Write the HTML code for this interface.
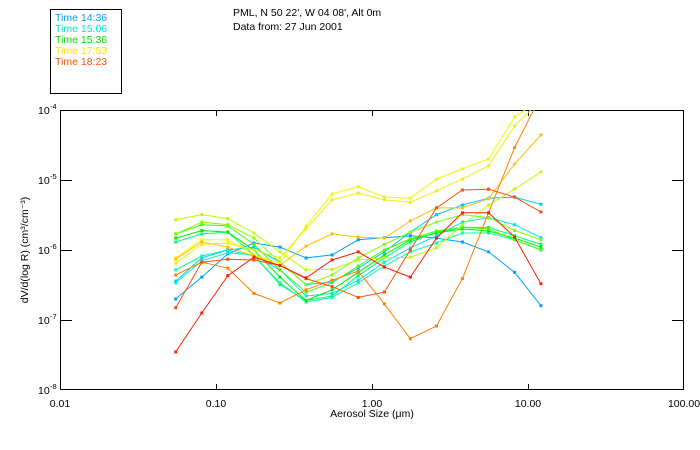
<!DOCTYPE html>
<html><head><meta charset="utf-8"><style>
html,body{margin:0;padding:0;background:#fff;}
svg{display:block;font-family:"Liberation Sans",sans-serif;}
</style></head><body>
<svg id="chart" width="700" height="450" viewBox="0 0 700 450">
<rect x="0" y="0" width="700" height="450" fill="#fff"/>
<g>
<rect x="50.5" y="9.5" width="71" height="84" fill="none" stroke="#000"/>
<text x="55" y="21" font-size="10.5" fill="#00a0ff">Time 14:36</text>
<text x="55" y="32" font-size="10.5" fill="#00e8c8">Time 15:06</text>
<text x="55" y="43" font-size="10.5" fill="#00e000">Time 15:36</text>
<text x="55" y="54" font-size="10.5" fill="#ffe000">Time 17:53</text>
<text x="55" y="65" font-size="10.5" fill="#ff5000">Time 18:23</text>
</g>
<text x="233" y="16" font-size="10.5" fill="#000">PML, N 50 22', W 04 08', Alt 0m</text>
<text x="233" y="30" font-size="10.5" fill="#000">Data from: 27 Jun 2001</text>
<text x="372" y="417" font-size="10.5" text-anchor="middle" fill="#000">Aerosol Size (μm)</text>
<text transform="translate(28,250) rotate(-90)" font-size="10.5" text-anchor="middle" fill="#000">dV/d(log R) (cm³/cm⁻³)</text>
<defs><clipPath id="plotclip"><rect x="60" y="110" width="624" height="280"/></clipPath></defs>
<g id="axes"></g>
<g id="series" clip-path="url(#plotclip)"></g>
</svg>
<script>
const xTicks = [0.01, 0.1, 1, 10, 100];
const xTickLabels = ["0.01", "0.10", "1.00", "10.00", "100.00"];
const yTicks = [1e-4, 1e-5, 1e-6, 1e-7, 1e-8];
const yTickExps = ["-4", "-5", "-6", "-7", "-8"];
const sizes = [0.0552,0.0811,0.119,0.175,0.257,0.378,0.555,0.816,1.20,1.76,2.59,3.80,5.59,8.21,12.1];
const s1 = [2.0e-7,4.1e-7,8.8e-7,1.26e-6,1.1e-6,7.7e-7,8.5e-7,1.4e-6,1.5e-6,1.6e-6,1.48e-6,1.3e-6,9.4e-7,4.8e-7,1.6e-7];
const s2 = [3.6e-7,7.7e-7,1.0e-6,1.1e-6,6.7e-7,3.2e-7,3.5e-7,5.5e-7,9.4e-7,1.8e-6,3.2e-6,4.4e-6,5.5e-6,5.7e-6,4.5e-6];
const s3 = [3.4e-7,7.0e-7,9.1e-7,8.5e-7,5.2e-7,2.2e-7,2.4e-7,3.7e-7,6.7e-7,1.07e-6,1.6e-6,2.5e-6,2.9e-6,2.3e-6,1.5e-6];
const s4 = [5.2e-7,8.2e-7,1.0e-6,8.2e-7,3.4e-7,1.8e-7,2.1e-7,3.4e-7,5.9e-7,9.4e-7,1.26e-6,1.75e-6,1.75e-6,1.4e-6,1.0e-6];
const s5 = [1.3e-6,1.7e-6,1.8e-6,8.5e-7,3.2e-7,1.9e-7,2.2e-7,4.3e-7,7.7e-7,1.3e-6,1.8e-6,2.1e-6,2.1e-6,1.6e-6,1.2e-6];
const s6 = [1.48e-6,1.9e-6,1.8e-6,1.0e-6,4.1e-7,1.9e-7,2.7e-7,4.8e-7,8.5e-7,1.4e-6,1.75e-6,2.0e-6,1.87e-6,1.48e-6,1.1e-6];
const s7 = [1.7e-6,2.3e-6,2.2e-6,1.2e-6,5.2e-7,2.5e-7,3.4e-7,5.9e-7,1.0e-6,1.44e-6,1.87e-6,2.1e-6,2.0e-6,1.4e-6,1.0e-6];
const s8 = [1.7e-6,2.5e-6,2.3e-6,1.48e-6,6.7e-7,3.2e-7,4.4e-7,7.7e-7,1.2e-6,1.8e-6,2.5e-6,3.2e-6,2.9e-6,1.9e-6,1.4e-6];
const s9 = [2.7e-6,3.2e-6,2.8e-6,1.75e-6,9.4e-7,5.2e-7,5.3e-7,7.2e-7,7.7e-7,7.9e-7,1.07e-6,2.3e-6,4.4e-6,7.4e-6,1.3e-5];
const s10 = [7.7e-7,1.4e-6,1.4e-6,8.5e-7,6.5e-7,2.2e-6,6.3e-6,8.0e-6,5.7e-6,5.5e-6,1.03e-5,1.44e-5,2.0e-5,8.0e-5,1.4e-4];
const s11 = [6.5e-7,1.2e-6,1.26e-6,1.0e-6,7.7e-7,2.0e-6,5.2e-6,6.5e-6,5.2e-6,4.8e-6,7.0e-6,1.03e-5,1.6e-5,5.9e-5,1.4e-4];
const s12 = [7.4e-7,1.3e-6,1.1e-6,8.2e-7,6.0e-7,1.14e-6,1.7e-6,1.53e-6,1.48e-6,2.6e-6,4.0e-6,4.0e-6,5.4e-6,1.7e-5,4.4e-5];
const s13 = [4.4e-7,6.7e-7,5.5e-7,2.4e-7,1.75e-7,2.7e-7,3.7e-7,5.0e-7,1.7e-7,5.4e-8,8.2e-8,3.9e-7,3.4e-6,2.9e-5,1.6e-4];
const s14 = [1.5e-7,6.7e-7,7.4e-7,7.2e-7,6.0e-7,3.9e-7,3.0e-7,2.1e-7,2.5e-7,1.0e-6,4.0e-6,7.2e-6,7.4e-6,5.7e-6,3.5e-6];
const s15 = [3.5e-8,1.26e-7,4.3e-7,7.9e-7,6.0e-7,4.0e-7,7.2e-7,9.4e-7,5.7e-7,4.1e-7,1.48e-6,3.4e-6,3.4e-6,1.53e-6,3.3e-7];
const seriesList = [s1,s2,s3,s4,s5,s6,s7,s8,s9,s10,s11,s12,s13,s14,s15];
const colors = ["#00a0ff","#00c8ff","#00e8e8","#00ffb0","#00ff70","#00f000","#40ff00","#80ff00","#b8ff00","#e8ff00","#f0f000","#ffc000","#ff8000","#ff5000","#ff2000"];

const L=60,R=684,T=110,B=390;
function xs(v){return L+(Math.log10(v)+2)/4*(R-L);}
function ys(v){return B-(Math.log10(v)+8)/4*(B-T);}
const NS="http://www.w3.org/2000/svg";
function mk(tag,attrs,parent){const e=document.createElementNS(NS,tag);for(const k in attrs)e.setAttribute(k,attrs[k]);parent.appendChild(e);return e;}
const axes=document.getElementById('axes');
const frame=mk('rect',{x:L+0.5,y:T+0.5,width:R-L-1,height:B-T-1,fill:'none',stroke:'#000'},axes);


xTicks.forEach((t,i)=>{
  const x=Math.round(xs(t))+0.5;
  if(i>0&&i<xTicks.length-1){
    const tb=mk('line',{x1:x,x2:x,y1:B,y2:B-6,stroke:'#000'},axes);
    
    
    const tt=mk('line',{x1:x,x2:x,y1:T,y2:T+6,stroke:'#000'},axes);
    
    
  }
  const lb=mk('text',{x:xs(t),y:B+17,'font-size':'10.5','text-anchor':'middle',fill:'#000'},axes);
  lb.textContent=xTickLabels[i];
  
  
});
yTicks.forEach((t,i)=>{
  const y=Math.round(ys(t))+0.5;
  if(i>0&&i<yTicks.length-1){
    const tl=mk('line',{x1:L,x2:L+12,y1:y,y2:y,stroke:'#000'},axes);
    
    
    const tr=mk('line',{x1:R-12,x2:R,y1:y,y2:y,stroke:'#000'},axes);
    
    
  }
  const lb=mk('text',{x:L-22,y:ys(t)+4,'font-size':'10.5',fill:'#000'},axes);
  lb.textContent='10';
  
  
  const sp=mk('text',{x:L-10,y:ys(t)-1,'font-size':'7.5',fill:'#000'},axes);
  sp.textContent=yTickExps[i];
  
  
});
const sg=document.getElementById('series');
seriesList.forEach((s,si)=>{
  const g=mk('g',{},sg);
  
  
  const pts=s.map((v,i)=>xs(sizes[i]).toFixed(1)+','+ys(v).toFixed(1)).join(' ');
  const pl=mk('polyline',{points:pts,fill:'none',stroke:colors[si],'stroke-width':'1'},g);
  
  
  s.forEach((v,i)=>{
    const m=mk('rect',{x:xs(sizes[i])-1.5,y:ys(v)-1.5,width:3,height:3,fill:colors[si]},g);
    
    
  });
});
</script>
</body></html>
